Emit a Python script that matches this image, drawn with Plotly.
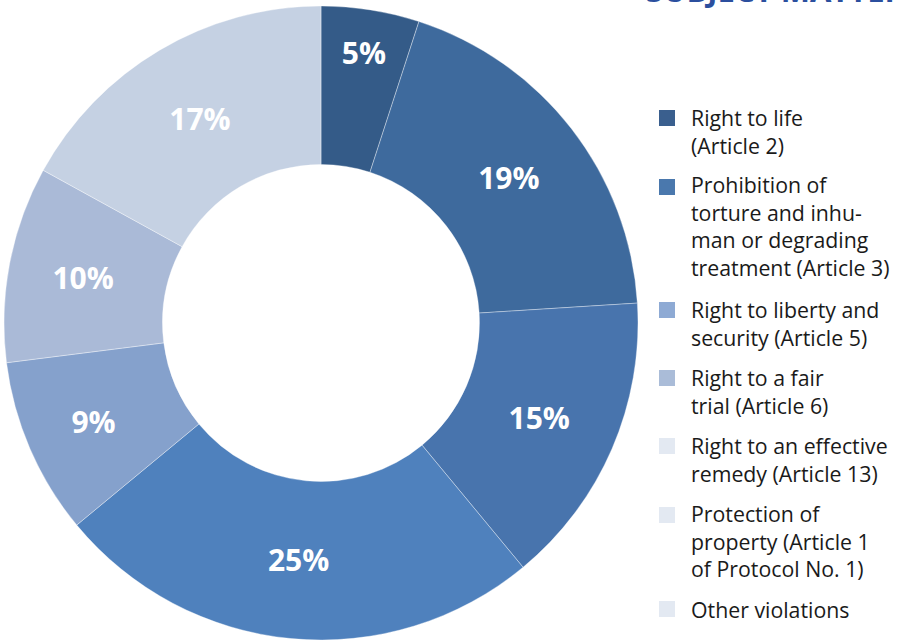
import plotly.graph_objects as go

# ---- data ----
categories = [
    "Right to life (Article 2)",
    "Prohibition of torture and inhuman or degrading treatment (Article 3)",
    "Right to liberty and security (Article 5)",
    "Right to a fair trial (Article 6)",
    "Right to an effective remedy (Article 13)",
    "Protection of property (Article 1 of Protocol No. 1)",
    "Other violations",
]
values = [5, 19, 15, 25, 9, 10, 17]
slice_colors = ["#345b88", "#3e6a9d", "#4874ad", "#4f81bd", "#85a1cc", "#aabad7", "#c5d1e3"]

legend_lines = [
    ["Right to life", "(Article 2)"],
    ["Prohibition of", "torture and inhu-", "man or degrading", "treatment (Article 3)"],
    ["Right to liberty and", "security (Article 5)"],
    ["Right to a fair", "trial (Article 6)"],
    ["Right to an effective", "remedy (Article 13)"],
    ["Protection of", "property (Article 1", "of Protocol No. 1)"],
    ["Other violations"],
]
legend_colors = ["#3a5f8e", "#4a78ad", "#8eaad4", "#aabcd8", "#e3e9f2", "#e3e9f2", "#e3e9f2"]
legend_first_line_y = [118, 187, 310, 378, 446, 515, 609]  # pixel centers
title_text = "SUBJECT MATTER"

W, H = 898, 640
cx, cy, r = 321, 323, 317

fig = go.Figure()
fig.add_trace(go.Pie(
    labels=categories,
    values=values,
    text=[f"{v}%" for v in values],
    textinfo="text",
    textposition="inside",
    insidetextorientation="horizontal",
    textfont=dict(family="Open Sans", size=30, color="white", weight="bold"),
    marker=dict(colors=slice_colors, line=dict(color="rgba(255,255,255,0.6)", width=0.6)),
    hole=0.5,
    sort=False,
    direction="clockwise",
    rotation=0,
    showlegend=False,
    domain=dict(x=[(cx - r) / W, (cx + r) / W], y=[(H - cy - r) / H, (H - cy + r) / H]),
    hoverinfo="label+percent",
))

annotations = []
shapes = []
LS = 26
for lines, col, y1 in zip(legend_lines, legend_colors, legend_first_line_y):
    n = len(lines)
    yc = y1 + (n - 1) * LS / 2
    annotations.append(dict(
        text="<br>".join(lines), x=689 / W, y=1 - yc / H, xref="paper", yref="paper",
        xanchor="left", yanchor="middle", align="left", showarrow=False,
        font=dict(family="Open Sans", size=21.3, color="#1a1a1a"),
    ))
    shapes.append(dict(
        type="rect", xref="paper", yref="paper",
        x0=659 / W, x1=675 / W, y0=1 - (y1 + 8) / H, y1=1 - (y1 - 8) / H,
        fillcolor=col, line=dict(width=0),
    ))

annotations.append(dict(
    text=title_text, x=644 / W, y=1 - 13 / H, xref="paper", yref="paper",
    xanchor="left", yanchor="bottom", showarrow=False,
    font=dict(family="Open Sans", size=31, color="#2b4f9e", weight="bold"),
))

fig.update_layout(
    width=W, height=H,
    margin=dict(l=0, r=0, t=0, b=0),
    paper_bgcolor="white", plot_bgcolor="white",
    annotations=annotations, shapes=shapes,
)

fig.write_html(
    "out.html",
    config={"displayModeBar": False},
    post_script="document.body.style.margin='0';document.body.style.overflow='hidden';",
)
